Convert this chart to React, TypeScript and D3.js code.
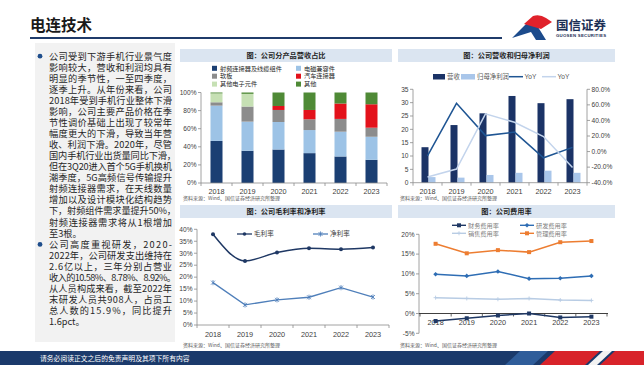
import React from 'react';
import * as d3 from 'd3';

const CN = '"Noto Sans CJK SC", "Noto Sans", sans-serif';
const NUM = '"Liberation Sans", Arial, sans-serif';
const AXIS = '#8c8c8c';
const LABEL = '#404040';
const SOURCE = '资料来源：Wind、国信证券经济研究所整理';

const years = ['2018', '2019', '2020', '2021', '2022', '2023'];

// 公司分产品营收占比 (%)
const productNames = ['射频连接器及线缆组件', '电磁兼容件', '软板', '汽车连接器', '其他电子元件', '其他'];
const productColors = ['#1b3f73', '#9dc3e6', '#8c8c8c', '#e3121b', '#c6e0b4', '#4f8a36'];
const rfShare = [46.5, 35.6, 37.0, 33.0, 29.3, 25.6];
const emcShare = [39.0, 32.2, 30.4, 25.5, 27.4, 25.5];
const fpcShare = [3.7, 16.7, 13.3, 11.9, 14.1, 10.0];
const autoShare = [0, 0, 4.4, 10.3, 17.0, 25.9];
const otherElecShare = [9.8, 14.0, 0, 0, 0, 0];
const otherShare = [1.0, 1.5, 14.9, 19.3, 12.2, 13.0];
const shareSeries = [rfShare, emcShare, fpcShare, autoShare, otherElecShare, otherShare];
const shareTicks = [0, 20, 40, 60, 80, 100];

// 营收和归母净利润 (亿元) / YoY (%)
const revenue = [13.3, 21.6, 26.0, 32.5, 29.8, 31.3];
const netProfit = [2.1, 1.9, 2.9, 3.7, 4.5, 3.7];
const revenueYoY = [-5.6, 62.0, 20.5, 25.0, -8.0, 5.4];
const profitYoY = [-32.7, -22.4, 48.4, 37.7, 19.3, -20.6];
const amountTicks = [0, 5, 10, 15, 20, 25, 30, 35];
const yoyTicks = [-40, -20, 0, 20, 40, 60, 80];

// 毛利率和净利率 (%)
const grossMargin = [37.9, 26.8, 30.3, 32.1, 31.7, 32.4];
const netMargin = [17.7, 8.4, 10.5, 11.6, 15.6, 11.7];
const marginTicks = [0, 5, 10, 15, 20, 25, 30, 35, 40];

// 费用率 (%)
const financeRate = [-1.9, -1.2, -0.5, 0.0, -1.0, -0.8];
const rdRate = [9.9, 9.5, 10.6, 8.8, 8.9, 9.5];
const salesRate = [4.0, 3.8, 3.6, 3.8, 3.4, 3.3];
const adminRate = [17.6, 15.2, 16.0, 15.5, 18.0, 18.3];
const expenseTicks = [-5, 0, 5, 10, 15, 20];

const para1 = [
  '公司受到下游手机行业景气度',
  '影响较大，营收和利润均具有',
  '明显的季节性，一至四季度，',
  '逐季上升。从年份来看，公司',
  '2018年受到手机行业整体下滑',
  '影响，公司主要产品价格在季',
  '节性调价基础上出现了较常年',
  '幅度更大的下滑，导致当年营',
  '收、利润下滑。2020年，尽管',
  '国内手机行业出货量同比下滑，',
  '但在3Q20进入首个5G手机换机',
  '潮季度，5G高频信号传输提升',
  '射频连接器需求，在天线数量',
  '增加以及设计模块化结构趋势',
  '下，射频组件需求量提升50%，',
  '射频连接器需求将从1根增加',
  '至3根。',
];
const para2 = [
  '公司高度重视研发，2020-',
  '2022年，公司研发支出维持在',
  '2.6亿以上，三年分别占营业',
  '收入的10.58%、8.78%、8.92%。',
  '从人员构成来看，截至2022年',
  '末研发人员共908人，占员工',
  '总人数的15.9%，同比提升',
  '1.6pct。',
];

function Header() {
  return (
    <g>
      <text x={30} y={31} fontFamily={CN} fontSize={15.5} fontWeight="bold" fill="#1a1a1a">电连技术</text>
      <line x1={30} x2={502} y1={38} y2={38} stroke="#1f3b6a" strokeWidth={1.8} />
      <path d="M512,38 L527,23 L538,27 L546,40 L536,40 L531,32 Z" fill="#1c4b8c" />
      <path d="M524,24 L533,16 Q540,14 546,18 L552,22 L541,29 Z" fill="#e0222b" />
      <text x={556} y={30} fontFamily={CN} fontSize={12.5} fontWeight="bold" fill="#1c2f55">国信证券</text>
      <text x={556} y={37} fontFamily={NUM} fontSize={4.3} fontWeight="bold" fill="#1c2f55" textLength={50}>GUOSEN SECURITIES</text>
    </g>
  );
}

function TextPanel() {
  const lines = [...para1, ...para2];
  const lh = 11.07;
  const base = 59.5;
  const lastLines = new Set([para1.length - 1, lines.length - 1]);
  return (
    <g>
      <rect x={35} y={43} width={140} height={299} fill="#f2f2f2" />
      <circle cx={40} cy={base - 3.3} r={2.4} fill="#1f4e8c" />
      <circle cx={40} cy={base + para1.length * lh - 3.3} r={2.4} fill="#1f4e8c" />
      {lines.map((t, i) => {
        const wide = (t.length >= 14 && t.endsWith('，')) || i === para1.length + 3;
        const props = lastLines.has(i) ? {} : { textLength: wide ? 127 : 123 };
        return (
          <text key={i} x={49} y={base + i * lh} fontFamily={CN} fontSize={9.2} fill="#262626" {...props}>{t}</text>
        );
      })}
    </g>
  );
}

function TitleBar({ x0, x1, y, text }: { x0: number; x1: number; y: number; text: string }) {
  return (
    <g>
      <rect x={x0} y={y} width={x1 - x0} height={13} fill="#dbe5f1" />
      <text x={(x0 + x1) / 2} y={y + 9.4} textAnchor="middle" fontFamily={CN} fontSize={7.2} fontWeight="bold" fill="#1f1f1f">{text}</text>
    </g>
  );
}

function Source({ x, y }: { x: number; y: number }) {
  return <text x={x} y={y} fontFamily={CN} fontSize={5} fill="#595959">{SOURCE}</text>;
}

function XAxis({ x, y, labelY }: { x: d3.ScaleBand<string>; y: number; labelY: number }) {
  const [r0, r1] = x.range();
  const step = x.step();
  return (
    <g>
      <line x1={r0} x2={r1} y1={y} y2={y} stroke={AXIS} strokeWidth={0.8} />
      {d3.range(years.length + 1).map(i => (
        <line key={i} x1={r0 + i * step} x2={r0 + i * step} y1={y} y2={y + 3} stroke={AXIS} strokeWidth={0.8} />
      ))}
      {years.map(yr => (
        <text key={yr} x={x(yr)! + x.bandwidth() / 2} y={labelY} textAnchor="middle" fontFamily={NUM} fontSize={7.3} fill={LABEL}>{yr}</text>
      ))}
    </g>
  );
}

function YAxis({ y, ticks, x, side, fmt }: { y: d3.ScaleLinear<number, number>; ticks: number[]; x: number; side: 'left' | 'right'; fmt: (v: number) => string }) {
  const [d0, d1] = y.range();
  const dir = side === 'left' ? -1 : 1;
  return (
    <g>
      <line x1={x} x2={x} y1={d0} y2={d1} stroke={AXIS} strokeWidth={0.8} />
      {ticks.map(t => (
        <g key={t}>
          <line x1={x} x2={x + dir * 3} y1={y(t)} y2={y(t)} stroke={AXIS} strokeWidth={0.8} />
          <text x={x + dir * 4.5} y={y(t) + 2.3} textAnchor={side === 'left' ? 'end' : 'start'} fontFamily={NUM} fontSize={6.6} fill={LABEL}>{fmt(t)}</text>
        </g>
      ))}
    </g>
  );
}

function ShareChart() {
  const x = d3.scaleBand<string>().domain(years).range([201, 387]);
  const y = d3.scaleLinear().domain([0, 100]).range([183, 92.5]);
  const table = years.map((yr, i) => {
    const row: Record<string, number | string> = { year: yr };
    productNames.forEach((n, k) => { row[n] = shareSeries[k][i]; });
    return row;
  });
  const stacked = d3.stack<Record<string, number | string>>().keys(productNames)(table as any);
  const bw = 12;
  const legendRows = [68.3, 76.2, 84.1];
  return (
    <g>
      {productNames.map((n, k) => {
        const col = k % 2;
        const ly = legendRows[Math.floor(k / 2)];
        const lx = col === 0 ? 212 : 296;
        return (
          <g key={n}>
            <rect x={lx} y={ly - 2.5} width={5} height={5} fill={productColors[k]} />
            <text x={lx + 8} y={ly + 2.2} fontFamily={CN} fontSize={6.2} fill="#262626">{n}</text>
          </g>
        );
      })}
      {stacked.map((layer, k) =>
        layer.map((d, i) =>
          d[1] - d[0] > 0 ? (
            <rect key={k + '-' + i} x={x(years[i])! + x.bandwidth() / 2 - bw / 2} y={y(d[1])} width={bw} height={y(d[0]) - y(d[1])} fill={productColors[k]} />
          ) : null
        )
      )}
      <YAxis y={y} ticks={shareTicks} x={201} side="left" fmt={v => v + '%'} />
      <XAxis x={x} y={183} labelY={193.5} />
    </g>
  );
}

function RevenueChart() {
  const x = d3.scaleBand<string>().domain(years).range([413, 587]);
  const yL = d3.scaleLinear().domain([0, 35]).range([182.7, 89.3]);
  const yR = d3.scaleLinear().domain([-40, 80]).range([182.7, 89.3]);
  const sub = d3.scaleBand<string>().domain(['营收', '归母净利润']).range([-6, 8]);
  const cx = (yr: string) => x(yr)! + x.bandwidth() / 2;
  const line = d3.line<number>().x((_, i) => cx(years[i])).y(v => yR(v));
  return (
    <g>
      <rect x={433} y={74} width={12} height={5.5} fill="#1b3366" />
      <text x={447} y={79.2} fontFamily={CN} fontSize={6.4} fill="#595959">营收</text>
      <rect x={461} y={74} width={14} height={5.5} fill="#a9c6ea" />
      <text x={477} y={79.2} fontFamily={CN} fontSize={6.4} fill="#595959">归母净利润</text>
      <line x1={509} x2={523} y1={76.7} y2={76.7} stroke="#1f5593" strokeWidth={1.5} />
      <text x={524.5} y={79.2} fontFamily={NUM} fontSize={6.6} fill="#595959">YoY</text>
      <line x1={542} x2={556} y1={76.7} y2={76.7} stroke="#c3d4ec" strokeWidth={1.5} />
      <text x={557.5} y={79.2} fontFamily={NUM} fontSize={6.6} fill="#595959">YoY</text>
      {years.map((yr, i) => (
        <g key={yr}>
          <rect x={cx(yr) + sub('营收')!} y={yL(revenue[i])} width={sub.bandwidth()} height={yL(0) - yL(revenue[i])} fill="#1b3366" />
          <rect x={cx(yr) + sub('归母净利润')!} y={yL(netProfit[i])} width={sub.bandwidth()} height={yL(0) - yL(netProfit[i])} fill="#a9c6ea" />
        </g>
      ))}
      <path d={line(revenueYoY)!} fill="none" stroke="#1f5593" strokeWidth={1.5} />
      <path d={line(profitYoY)!} fill="none" stroke="#c3d4ec" strokeWidth={1.5} />
      <YAxis y={yL} ticks={amountTicks} x={413} side="left" fmt={v => String(v)} />
      <YAxis y={yR} ticks={yoyTicks} x={587} side="right" fmt={v => v.toFixed(1) + '%'} />
      <XAxis x={x} y={182.7} labelY={193.5} />
    </g>
  );
}

function Star({ cx, cy, color }: { cx: number; cy: number; color: string }) {
  return (
    <path d={`M${cx - 2},${cy - 2}L${cx + 2},${cy + 2}M${cx - 2},${cy + 2}L${cx + 2},${cy - 2}M${cx},${cy - 2.6}L${cx},${cy + 2.6}`} stroke={color} strokeWidth={0.8} />
  );
}

function MarginChart() {
  const x = d3.scaleBand<string>().domain(years).range([197, 389]);
  const y = d3.scaleLinear().domain([0, 40]).range([325, 229.3]);
  const cx = (i: number) => x(years[i])! + x.bandwidth() / 2;
  const smooth = d3.line<number>().x((_, i) => cx(i)).y(v => y(v)).curve(d3.curveMonotoneX);
  const straight = d3.line<number>().x((_, i) => cx(i)).y(v => y(v));
  const dark = '#1f3864';
  const light = '#4f7fba';
  return (
    <g>
      <line x1={237} x2={252} y1={234} y2={234} stroke={dark} strokeWidth={1.3} />
      <circle cx={244.5} cy={234} r={1.8} fill={dark} />
      <text x={254} y={236.4} fontFamily={CN} fontSize={6.6} fill="#404040">毛利率</text>
      <line x1={313} x2={328} y1={234} y2={234} stroke={light} strokeWidth={1.3} />
      <Star cx={320.5} cy={234} color={light} />
      <text x={330} y={236.4} fontFamily={CN} fontSize={6.6} fill="#404040">净利率</text>
      <path d={smooth(grossMargin)!} fill="none" stroke={dark} strokeWidth={1.5} />
      {grossMargin.map((v, i) => <circle key={i} cx={cx(i)} cy={y(v)} r={2} fill={dark} />)}
      <path d={straight(netMargin)!} fill="none" stroke={light} strokeWidth={1.3} />
      {netMargin.map((v, i) => <Star key={i} cx={cx(i)} cy={y(v)} color={light} />)}
      <YAxis y={y} ticks={marginTicks} x={197} side="left" fmt={v => v + '%'} />
      <XAxis x={x} y={325} labelY={337} />
    </g>
  );
}

function ExpenseChart() {
  const x = d3.scaleBand<string>().domain(years).range([420, 607]);
  const y = d3.scaleLinear().domain([-5, 20]).range([333.3, 234.3]);
  const cx = (i: number) => x(years[i])! + x.bandwidth() / 2;
  const line = d3.line<number>().x((_, i) => cx(i)).y(v => y(v));
  const series = [
    { name: '财务费用率', data: financeRate, color: '#1f3864', marker: 'square', lx: 452, ly: 225.3 },
    { name: '研发费用率', data: rdRate, color: '#2e6db4', marker: 'diamond', lx: 520, ly: 225.3 },
    { name: '销售费用率', data: salesRate, color: '#b8cce4', marker: 'cross', lx: 452, ly: 233.3 },
    { name: '管理费用率', data: adminRate, color: '#ed7d31', marker: 'square', lx: 520, ly: 233.3 },
  ];
  const marker = (kind: string, mx: number, my: number, color: string, key: string) => {
    if (kind === 'square') return <rect key={key} x={mx - 2} y={my - 2} width={4} height={4} fill={color} />;
    if (kind === 'diamond') return <path key={key} d={`M${mx},${my - 2.3}L${mx + 2.3},${my}L${mx},${my + 2.3}L${mx - 2.3},${my}Z`} fill={color} />;
    return <path key={key} d={`M${mx - 2},${my}L${mx + 2},${my}M${mx},${my - 2}L${mx},${my + 2}`} stroke={color} strokeWidth={0.9} />;
  };
  const [r0, r1] = y.range();
  return (
    <g>
      {series.map(s => (
        <g key={s.name}>
          <line x1={s.lx} x2={s.lx + 14} y1={s.ly} y2={s.ly} stroke={s.color} strokeWidth={1.4} />
          {marker(s.marker, s.lx + 7, s.ly, s.color, 'l')}
          <text x={s.lx + 16} y={s.ly + 2.2} fontFamily={CN} fontSize={6.2} fill="#7f7f7f">{s.name}</text>
        </g>
      ))}
      <line x1={419} x2={419} y1={r0} y2={r1} stroke={AXIS} strokeWidth={0.8} />
      {expenseTicks.map(t => (
        <g key={t}>
          <line x1={416} x2={419} y1={y(t)} y2={y(t)} stroke={AXIS} strokeWidth={0.8} />
          <text x={414.5} y={y(t) + 2.3} textAnchor="end" fontFamily={NUM} fontSize={6.6} fill={LABEL}>{t + '%'}</text>
        </g>
      ))}
      <line x1={419} x2={608} y1={y(0)} y2={y(0)} stroke="#404040" strokeWidth={1} />
      {d3.range(years.length + 1).map(i => (
        <line key={i} x1={420 + i * x.step()} x2={420 + i * x.step()} y1={y(0)} y2={y(0) + 3} stroke="#404040" strokeWidth={0.8} />
      ))}
      {years.map((yr, i) => (
        <text key={yr} x={cx(i)} y={325} textAnchor="middle" fontFamily={NUM} fontSize={7.3} fill={LABEL}>{yr}</text>
      ))}
      {series.map(s => (
        <g key={s.name}>
          <path d={line(s.data)!} fill="none" stroke={s.color} strokeWidth={1.5} />
          {s.data.map((v, i) => marker(s.marker, cx(i), y(v), s.color, String(i)))}
        </g>
      ))}
    </g>
  );
}

function Footer() {
  return (
    <g>
      <rect x={0} y={351} width={644} height={14} fill="#1b3a6b" />
      <path d="M505,365 L520,351 L548,351 L533,365 Z" fill="#2f5d9a" />
      <path d="M540,365 L555,351 L600,351 L585,365 Z" fill="#d8232a" />
      <path d="M588,365 L603,351 L612,351 L597,365 Z" fill="#f2f2f2" />
      <path d="M600,365 L615,351 L644,351 L644,365 Z" fill="#d8232a" />
      <text x={40} y={360.5} fontFamily={CN} fontSize={6.8} fill="#ffffff">请务必阅读正文之后的免责声明及其项下所有内容</text>
    </g>
  );
}

export default function App() {
  return (
    <div style={{ position: 'absolute', left: 0, top: 0 }}>
      <svg width={644} height={365} viewBox="0 0 644 365" style={{ display: 'block' }}>
        <rect width={644} height={365} fill="#ffffff" />
        <Header />
        <TextPanel />
        <TitleBar x0={180} x1={392} y={49} text="图：公司分产品营收占比" />
        <TitleBar x0={398} x1={615} y={49} text="图：公司营收和归母净利润" />
        <TitleBar x0={180} x1={392} y={205} text="图：公司毛利率和净利率" />
        <TitleBar x0={398} x1={615} y={205} text="图：公司费用率" />
        <ShareChart />
        <RevenueChart />
        <MarginChart />
        <ExpenseChart />
        <Source x={183} y={200} />
        <Source x={400} y={200} />
        <Source x={183} y={347} />
        <Source x={400} y={347} />
        <Footer />
      </svg>
    </div>
  );
}
